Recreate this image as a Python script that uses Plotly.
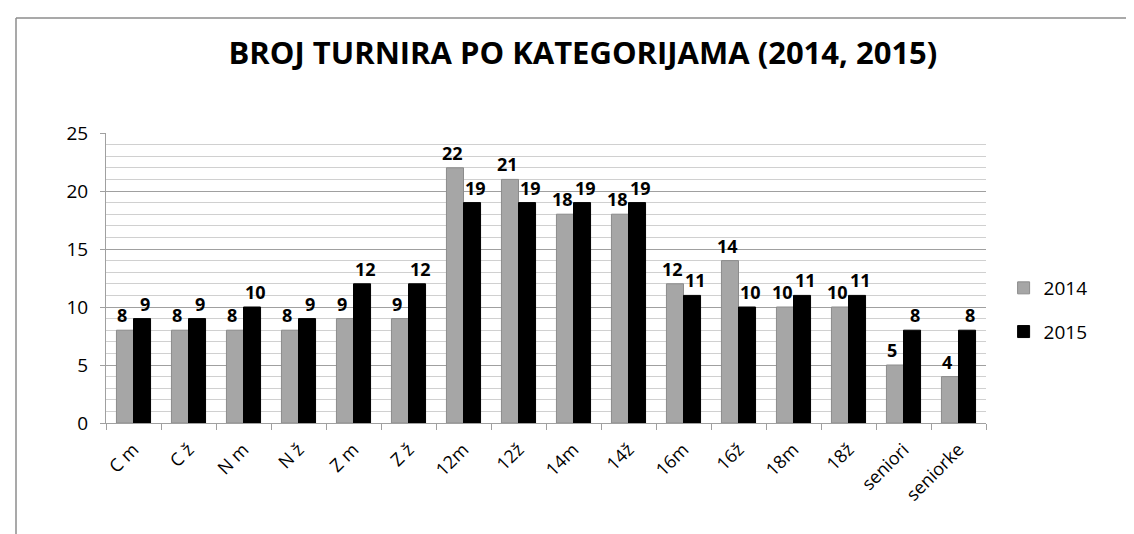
import plotly.graph_objects as go

categories = ["C m", "C ž", "N m", "N ž", "Z m", "Z ž", "12m", "12ž", "14m", "14ž",
              "16m", "16ž", "18m", "18ž", "seniori", "seniorke"]
values_2014 = [8, 8, 8, 8, 9, 9, 22, 21, 18, 18, 12, 14, 10, 10, 5, 4]
values_2015 = [9, 9, 10, 9, 12, 12, 19, 19, 19, 19, 11, 10, 11, 11, 8, 8]
series_names = ["2014", "2015"]
title_text = "BROJ TURNIRA PO KATEGORIJAMA (2014, 2015)"

FONT = "Open Sans"

fig = go.Figure()
fig.add_trace(go.Bar(
    x=categories, y=values_2014, name=series_names[0], legendgroup="a",
    marker=dict(color="#A6A6A6", line=dict(color="#8C8C8C", width=1)),
))
fig.add_trace(go.Bar(
    x=categories, y=values_2015, name=series_names[1], legendgroup="b",
    marker=dict(color="#000000", line=dict(color="#000000", width=1)),
))

# data labels, anchored to each bar's value through the axes
annotations = []
for vals, shift in ((values_2014, -11.5), (values_2015, 11.5)):
    for c, v in zip(categories, vals):
        annotations.append(dict(
            x=c, y=v, xref="x", yref="y", text=str(v), showarrow=False,
            xanchor="center", yanchor="bottom", xshift=shift, yshift=1,
            font=dict(family=FONT, size=18, color="black", weight="bold"),
        ))

# outer frame (chart area border, left and top edges)
W, H = 1134, 534
L, R, T, B = 98, 156, 125, 119
pw, ph = W - L - R, H - T - B
def px(x):
    return (x - L) / pw
def py(y):
    return (H - B - y) / ph

fig.update_layout(
    width=W, height=H,
    margin=dict(l=L, r=R, t=T, b=B),
    paper_bgcolor="white", plot_bgcolor="white",
    barmode="group", bargap=0.38, bargroupgap=0.0,
    annotations=annotations,
    title=dict(text=title_text, x=0.507, xanchor="center", y=0.915, yanchor="middle",
               font=dict(family=FONT, size=31, color="black", weight="bold")),
    legend=dict(x=1.02, y=py(302), xanchor="left", yanchor="middle",
                font=dict(family=FONT, size=19, color="black"),
                itemwidth=30, tracegroupgap=16, traceorder="grouped"),
    font=dict(family=FONT, color="black"),
    shapes=[
        dict(type="line", xref="paper", yref="paper",
             x0=px(8), x1=px(8), y0=py(534), y1=py(10),
             line=dict(color="#8C8C8C", width=1.5)),
        dict(type="line", xref="paper", yref="paper",
             x0=px(8), x1=px(1134), y0=py(10), y1=py(10),
             line=dict(color="#8C8C8C", width=1.5)),
    ],
)
fig.update_yaxes(
    range=[0, 25], dtick=5, tick0=0,
    showgrid=True, gridcolor="#A0A0A0", gridwidth=1,
    minor=dict(dtick=1, showgrid=True, gridcolor="#D0D0D0", gridwidth=1),
    showline=True, linecolor="#A0A0A0", linewidth=1,
    ticks="outside", ticklen=5, tickcolor="#A0A0A0",
    ticklabelstandoff=8,
    tickfont=dict(family=FONT, size=19, color="black"),
    zeroline=False,
)
fig.update_xaxes(
    showline=True, linecolor="#A0A0A0", linewidth=1,
    ticks="outside", tickson="boundaries", ticklen=6, tickcolor="#A0A0A0",
    tickangle=-45, ticklabelstandoff=8,
    tickfont=dict(family=FONT, size=18, color="black"),
    showgrid=False,
)

fig.write_html("out.html")
